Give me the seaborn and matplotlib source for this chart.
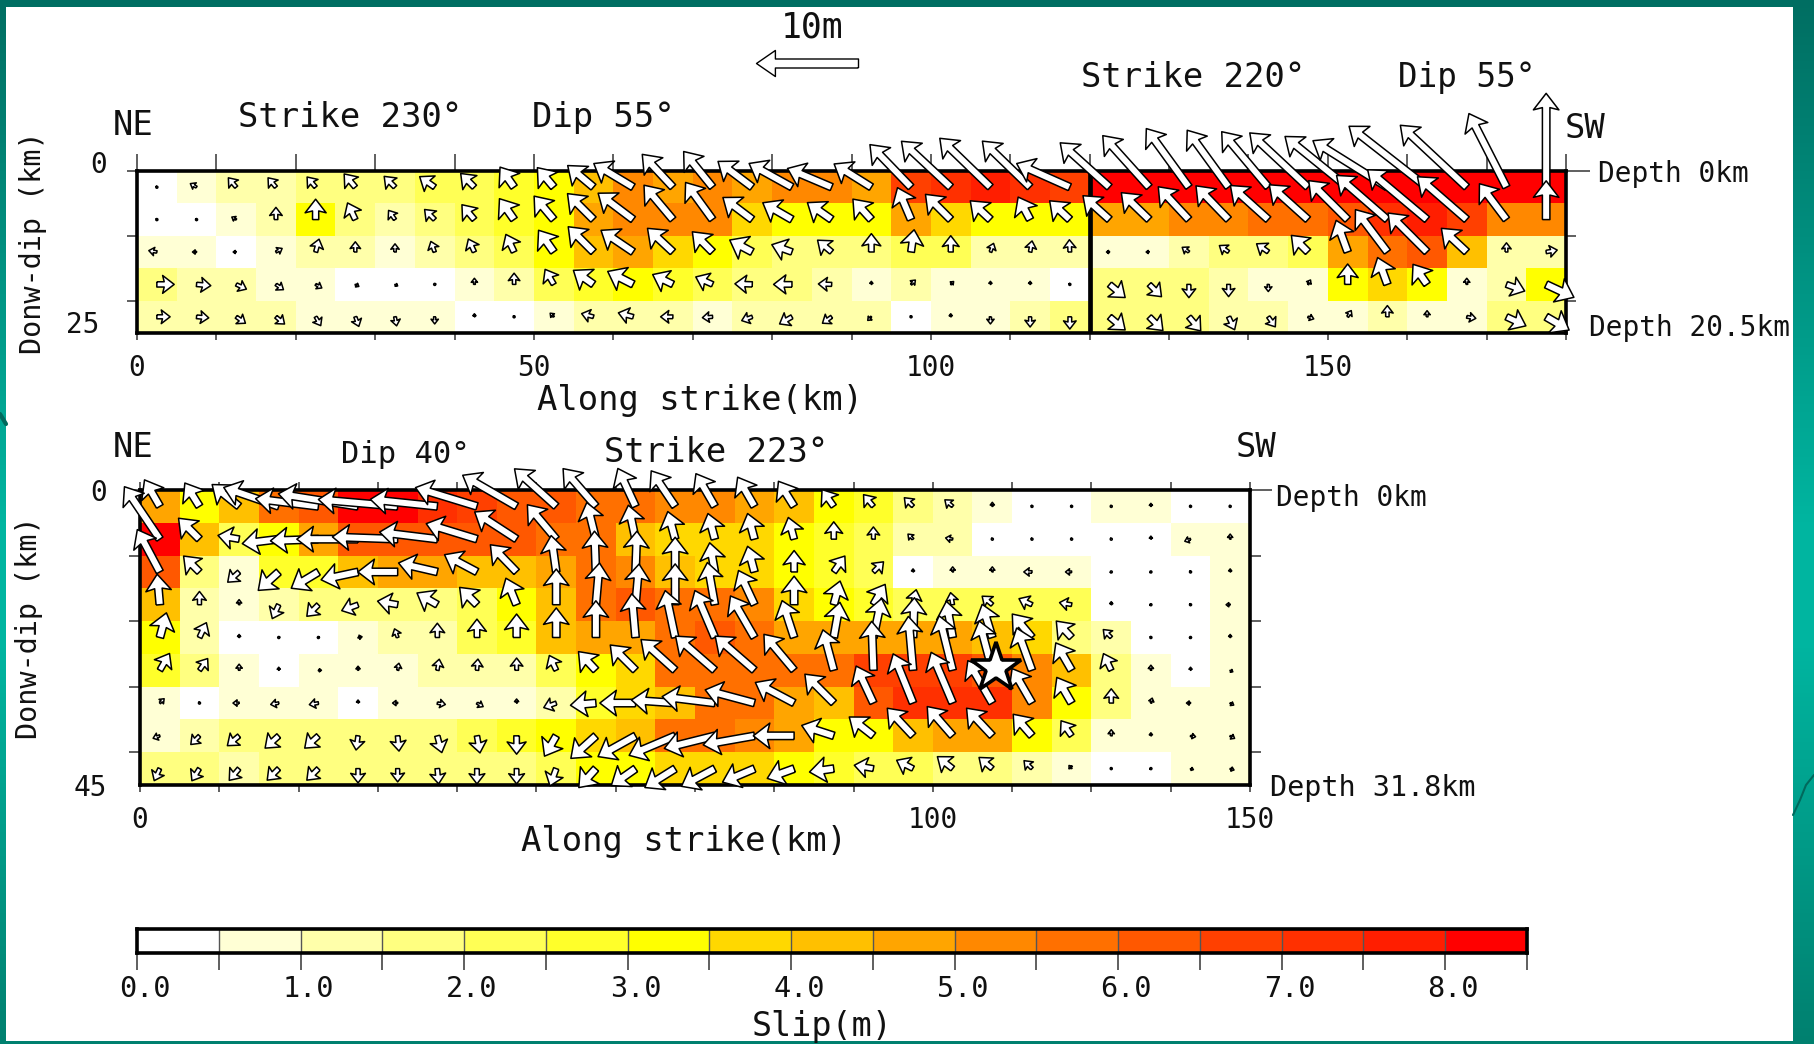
import numpy as np
import matplotlib
matplotlib.use("Agg")
import matplotlib.pyplot as plt
from matplotlib.colors import ListedColormap, BoundaryNorm, LinearSegmentedColormap
from matplotlib.transforms import ScaledTranslation
import seaborn as sns

# ---- slip (m), one row per 5 km down dip, one column per 5 km along strike ----
slip_top = [
 [0.1,0.7,1.2,1.2,1.7,1.7,1.7,2.3,2.3,2.8,3.2,4.0,5.0,4.9,5.0,4.7,5.4,5.3,4.8,6.8,7.4,7.8,7.3,6.7,8.2,8.2,8.2,8.2,8.2,8.2,8.2,8.2,8.2,8.2,8.2,8.2],
 [0.1,0.2,0.8,1.2,3.2,1.7,1.2,1.7,2.2,2.9,3.2,4.6,5.0,5.0,5.2,3.8,3.2,3.2,3.2,4.7,3.9,3.2,3.3,3.3,4.7,4.7,5.3,5.3,5.7,5.7,6.3,7.3,7.8,6.8,5.4,5.4],
 [0.8,0.8,0.1,0.8,1.2,1.2,0.7,1.2,1.7,2.2,3.2,4.2,4.6,3.9,3.2,2.0,1.5,1.5,1.7,2.3,2.0,1.2,1.2,1.2,0.8,0.8,1.2,1.7,1.7,2.3,4.5,5.8,6.0,4.2,1.2,1.2],
 [1.8,1.2,1.2,0.8,0.8,0.2,0.2,0.2,0.8,1.2,2.2,2.7,3.2,2.7,2.2,1.7,1.7,1.2,0.7,1.2,0.8,0.8,0.8,0.2,1.8,1.7,1.5,1.4,0.8,0.8,3.2,3.9,3.2,0.7,1.2,3.1],
 [1.2,1.2,1.2,1.2,0.8,0.8,0.8,0.8,0.2,0.2,0.7,1.2,1.2,1.2,0.8,1.2,1.2,1.2,1.2,0.2,0.7,0.8,1.2,1.5,1.7,1.7,1.7,1.4,1.2,0.8,0.8,1.2,0.8,0.8,1.7,1.8],
]
# arrow length, in tenths of a metre
vec_top = [
 [2,7,12,12,13,17,15,18,19,24,25,33,45,44,45,42,48,47,43,58,66,69,65,57,65,68,71,69,71,78,79,86,97,89,81,92],
 [1,2,5,12,20,18,11,14,19,25,30,36,43,44,45,36,33,29,27,34,35,27,25,27,35,38,44,46,50,51,54,66,76,64,44,38],
 [8,4,3,7,13,10,8,11,14,19,26,35,38,34,28,25,21,18,18,22,16,9,11,12,3,3,8,11,14,23,33,52,54,34,9,11],
 [17,14,11,9,7,4,3,2,6,11,17,24,28,22,18,17,18,13,3,6,4,3,3,2,20,17,13,12,7,5,20,28,24,6,19,30],
 [13,12,11,11,10,10,9,7,3,2,5,12,15,12,10,11,14,11,5,1,3,7,10,12,20,19,18,14,12,6,7,11,6,9,21,26],
]
# arrow direction, degrees counter-clockwise from "along strike"
rake_top = [
 [90,150,130,130,130,130,135,145,135,125,130,140,149,133,129,143,151,157,148,134,137,136,136,156,138,132,126,126,130,137,141,148,142,137,117,90],
 [90,90,150,90,90,115,125,135,130,125,130,135,143,130,126,143,150,145,132,113,135,137,118,137,138,136,133,134,138,138,135,139,140,139,127,90],
 [170,180,180,30,75,90,90,110,115,115,125,135,146,137,135,152,160,140,90,82,90,70,80,92,180,180,145,145,145,135,110,127,135,137,90,10],
 [0,-5,-25,-35,-30,-30,-30,0,90,90,120,145,153,154,156,178,180,178,90,45,45,90,90,90,-40,-45,-90,-90,-90,60,90,110,125,90,-20,-25],
 [0,-5,-35,-40,-60,-70,-80,-90,90,90,135,165,165,180,185,200,210,215,225,90,90,-90,-90,-90,-40,-45,-50,-65,-55,-20,60,90,90,-10,-25,-30],
]

slip_bot = [
 [4.5,3.2,4.2,5.8,6.2,8.0,8.2,7.0,6.5,6.2,6.2,5.7,5.7,5.2,5.0,4.7,4.2,3.1,2.7,1.7,1.2,0.7,0.1,0.1,0.7,0.7,0.1,0.1],
 [8.0,4.2,2.2,3.0,4.5,6.0,6.3,6.2,6.0,6.0,5.8,5.7,4.2,3.9,3.9,3.7,3.2,2.8,2.2,1.0,1.0,0.2,0.1,0.1,0.1,0.1,0.8,0.8],
 [6.0,1.7,0.8,2.8,2.8,4.2,4.5,4.7,4.2,4.2,4.7,5.7,5.0,4.2,3.9,3.5,3.2,2.8,2.2,0.1,0.8,0.8,0.8,0.8,0.1,0.1,0.1,0.7],
 [4.2,1.2,0.6,1.4,1.7,1.7,1.7,1.8,2.2,3.1,4.2,5.7,6.0,5.7,5.7,5.0,3.5,3.0,2.7,2.2,2.2,2.2,2.2,2.0,0.1,0.1,0.1,0.7],
 [3.2,1.2,0.1,0.1,0.1,0.8,1.2,1.2,2.2,2.5,4.0,4.5,4.7,5.7,6.4,5.7,4.5,4.7,4.7,4.7,4.5,4.3,3.9,1.9,1.4,0.1,0.1,0.7],
 [2.5,1.7,0.8,0.1,0.8,0.8,0.8,1.2,1.2,1.2,2.2,3.0,3.7,5.5,5.7,5.7,5.5,5.7,6.5,6.7,6.5,6.0,5.3,4.2,1.7,0.7,0.1,0.7],
 [0.8,0.1,0.7,0.8,0.8,0.1,0.7,0.7,0.7,0.7,1.2,2.9,3.6,4.3,5.5,5.5,4.9,4.2,6.0,7.0,7.3,7.2,5.3,3.2,1.7,0.7,0.7,0.7],
 [0.7,1.2,1.7,1.7,1.7,1.7,1.7,1.7,2.2,2.8,3.2,3.9,4.2,5.5,5.5,5.2,4.9,3.2,3.2,4.2,4.5,4.5,3.2,2.2,0.8,0.7,0.7,0.7],
 [1.7,1.7,1.2,1.7,1.7,1.7,1.7,1.7,1.7,1.7,2.2,3.0,3.2,3.9,3.7,3.7,3.3,2.7,2.2,2.2,1.8,1.7,1.2,0.7,0.1,0.1,0.7,0.7],
]
vec_bot = [
 [30,27,34,57,62,79,78,66,63,61,55,49,41,42,37,33,29,20,15,12,10,4,1,1,2,3,2,2],
 [62,29,21,36,47,60,64,57,52,49,44,37,34,28,26,26,22,17,12,7,7,2,2,2,1,3,6,5],
 [47,22,15,27,31,37,39,39,36,37,36,40,40,34,29,26,21,19,14,3,5,5,8,6,2,2,2,3],
 [30,13,5,15,16,17,20,23,24,28,35,41,40,40,42,37,28,24,23,15,12,13,14,12,3,1,2,4],
 [25,16,3,2,2,4,9,14,18,23,29,36,43,47,50,47,38,35,39,39,36,34,30,22,11,2,1,3],
 [19,14,6,3,3,4,7,11,11,12,16,25,35,45,51,51,46,41,48,53,55,50,44,31,18,5,3,3],
 [6,2,6,8,9,3,5,8,7,4,13,25,35,43,52,50,43,40,40,52,54,48,39,29,14,5,4,4],
 [7,12,15,18,18,14,15,17,17,18,23,33,42,49,51,51,40,33,30,37,38,37,28,18,6,3,5,5],
 [13,14,15,16,16,14,13,15,15,15,18,25,29,35,37,34,28,24,19,18,19,17,11,4,1,2,3,4],
]
rake_bot = [
 [120,122,141,161,173,171,175,174,163,150,138,131,115,124,120,120,122,125,130,135,140,90,90,90,90,90,90,90],
 [124,135,170,187,182,180,178,173,163,147,130,104,102,105,105,105,105,90,90,135,170,90,90,90,90,90,200,90],
 [118,135,222,222,211,192,180,167,152,134,98,92,88,90,100,105,90,55,45,90,90,90,180,180,180,180,90,90],
 [95,90,90,245,225,200,170,150,135,112,90,85,85,90,100,115,90,75,60,78,100,140,155,170,90,180,90,180],
 [75,65,90,0,0,10,110,90,90,90,90,90,95,102,113,120,108,80,78,88,100,107,130,133,135,90,180,90],
 [60,55,90,90,0,90,80,80,85,90,115,133,135,138,139,139,130,105,92,95,104,105,110,120,115,90,90,-30],
 [45,90,180,190,190,90,180,-10,-30,90,200,185,180,176,173,165,152,135,115,112,113,120,120,120,90,75,180,-30],
 [200,225,220,222,222,262,-85,-75,-80,-90,240,222,209,203,194,190,180,162,142,133,131,133,131,125,90,90,-10,-30],
 [245,238,230,225,225,-90,-90,-85,-90,-90,250,228,215,212,208,203,200,188,170,153,142,140,135,130,90,180,-20,-20],
]

# colour scale
slip_bins = [0.5 * i for i in range(18)]
bin_colors = ["#FFFFFF", "#FFFFD5", "#FFFFAA", "#FFFF80", "#FFFF55", "#FFFF2A", "#FFFF00",
              "#FFD800", "#FFC000", "#FFA500", "#FF8800", "#FF7000", "#FF5800", "#FF4000",
              "#FF3000", "#FF1E00", "#FF0000"]
cbar_tick_labels = ["0.0", "1.0", "2.0", "3.0", "4.0", "5.0", "6.0", "7.0", "8.0"]
top_x_labels = {0: "0", 50: "50", 100: "100", 150: "150"}
bot_x_labels = {0: "0", 100: "100", 140: "150"}
segment_break_km = 120
legend_slip_m = 10
epicentre_km = (108.0, 27.2)

W, H = 1814, 1044
DPI = 100
MONO = "DejaVu Sans Mono"
sns.set_theme(style="white")
plt.rcParams["font.family"] = MONO
INK = "#111111"

fig = plt.figure(figsize=(W / DPI, H / DPI), dpi=DPI)

def axpx(x0, y0, x1, y1, **kw):
    return fig.add_axes([x0 / W, 1 - y1 / H, (x1 - x0) / W, (y1 - y0) / H], **kw)

def T(x, y, s, size=24.4, ha="left", va="center", **kw):
    return fig.text(x / W, 1 - (y + 2.5) / H, s, fontsize=size, ha=ha, va=va, color=INK, **kw)

def shift(label, dx, dy):
    label.set_transform(label.get_transform() + ScaledTranslation(dx / DPI, -dy / DPI, fig.dpi_scale_trans))

# background: teal slide with a white sheet
bg = axpx(0, 0, W, H, zorder=-5)
teal = LinearSegmentedColormap.from_list("teal", [(0, "#006E62"), (0.5, "#00B5A0"), (0.62, "#00B5A0"), (1, "#00806F")])
bg.imshow(np.linspace(0, 1, 256)[:, None], cmap=teal, aspect="auto", extent=(0, W, H, 0))
bg.fill_between([6, 1793], [7, 7], [1041, 1041], color="white", lw=0)
bg.plot([1793, 1800, 1806, 1814], [815, 800, 785, 775], color="#00695C", lw=1.5)
bg.plot([0, 6], [414, 424], color="#00695C", lw=3)
bg.set_xlim(0, W); bg.set_ylim(H, 0); bg.axis("off")

cmap = ListedColormap(bin_colors)
norm = BoundaryNorm(slip_bins, cmap.N)

def panel(ax, slip, vec, rake):
    slip = np.array(slip, float)
    sns.heatmap(slip, ax=ax, cmap=cmap, norm=norm, cbar=False, xticklabels=False, yticklabels=False)
    vec = np.array(vec, float); ang = np.deg2rad(np.array(rake, float))
    rows, cols = slip.shape
    X, Y = np.meshgrid(np.arange(cols) + 0.5, np.arange(rows) + 0.5)
    ax.quiver(X, Y, vec * np.cos(ang), vec * np.sin(ang), angles="uv", pivot="tail",
              units="dots", width=7.5, scale_units="dots", scale=1 / 1.02,
              headwidth=3.4, headlength=2.2, headaxislength=1.9, minshaft=1.5, minlength=0.3,
              facecolor="white", edgecolor="black", linewidth=1.1, zorder=4, clip_on=False)
    for s in ax.spines.values():
        s.set_visible(True); s.set_color("black"); s.set_linewidth(2.6); s.set_zorder(3)

KM = 5.0  # one grid cell

# ---- top panel ----
ax1 = axpx(137, 171, 1566, 333)
panel(ax1, slip_top, vec_top, rake_top)
ax1.axvline(segment_break_km / KM, color="black", lw=3.4, zorder=3)
xt = np.arange(0, 181, 10)
ax1.set_xticks(xt / KM, [top_x_labels.get(int(v), "") for v in xt])
ax1.set_yticks([0, 2, 4, 5], ["0", "", "", "25"])
ax1.tick_params(axis="x", which="major", bottom=True, top=True, length=5, width=1.2, color="#444444",
                labelsize=20, pad=10, labelcolor=INK)
ax1.tick_params(axis="y", which="major", left=True, right=True, length=7.5, width=1.2, color="#444444",
                labelsize=20, pad=14, labelcolor=INK)
for t in ax1.xaxis.get_major_ticks():
    t.tick2line.set_markersize(12)
yt = ax1.yaxis.get_major_ticks()
yt[3].tick1line.set_visible(False); yt[3].tick2line.set_visible(False)
yt[0].tick2line.set_markersize(17)
shift(ax1.get_yticklabels()[0], 0, -9)
shift(ax1.get_yticklabels()[3], -8, -11)
# 10 m reference arrow, drawn at the same scale as the slip vectors
ax1.quiver([90.8 / KM], [-16.7 / KM], [-legend_slip_m * 10], [0], angles="uv", pivot="tail",
           units="dots", width=9, scale_units="dots", scale=1 / 1.02,
           headwidth=2.9, headlength=2.1, headaxislength=2.1, facecolor="white",
           edgecolor="black", linewidth=1.0, zorder=4, clip_on=False)

# ---- bottom panel ----
ax2 = axpx(140, 490, 1250, 785)
panel(ax2, slip_bot, vec_bot, rake_bot)
xt = np.arange(0, 141, 10)
ax2.set_xticks(xt / KM, [bot_x_labels.get(int(v), "") for v in xt])
ax2.set_yticks([0, 2, 4, 6, 8, 9], ["0", "", "", "", "", "45"])
ax2.tick_params(axis="x", which="major", bottom=True, top=True, length=5, width=1.2, color="#444444",
                labelsize=20, pad=10, labelcolor=INK)
ax2.tick_params(axis="y", which="major", left=True, right=True, length=8, width=1.2, color="#444444",
                labelsize=20, pad=16, labelcolor=INK)
for t in ax2.xaxis.get_major_ticks():
    t.tick2line.set_markersize(6)
yt = ax2.yaxis.get_major_ticks()
yt[5].tick1line.set_visible(False); yt[5].tick2line.set_visible(False)
yt[0].tick2line.set_markersize(16)
ax2.plot(epicentre_km[0] / KM, epicentre_km[1] / KM, marker="*", ms=38, mfc="white", mec="black", mew=2.6,
         zorder=6, clip_on=False, ls="none")

# ---- colour bar ----
ax3 = axpx(137, 929, 1527, 953)
mids = np.array(slip_bins[:-1]) + 0.25
sns.heatmap(mids[None, :], ax=ax3, cmap=cmap, norm=norm, cbar=False, xticklabels=False, yticklabels=False)
for v in range(1, 17):
    ax3.axvline(v, color="#555555", lw=1.0)
ax3.set_yticks([])
ax3.set_xticks(np.arange(0, 18), [cbar_tick_labels[i // 2] if i % 2 == 0 else "" for i in range(18)])
ax3.tick_params(axis="x", bottom=True, length=12, width=1.2, color="#444444", labelsize=20.5, pad=4, labelcolor=INK)
for lab in ax3.get_xticklabels():
    shift(lab, 8, 0)
for s in ax3.spines.values():
    s.set_visible(True); s.set_color("black"); s.set_linewidth(2.6)

# ---- annotations ----
T(812, 25, "10m", 25, ha="center")
T(238, 115, "Strike 230°")
T(532, 115, "Dip 55°")
T(1081, 75, "Strike 220°")
T(1398, 75, "Dip 55°", 23.5)
T(113, 123, "NE", 24.4)
T(1565, 126, "SW", 24.4)
T(1598, 172, "Depth 0km", 20)
T(1589, 326, "Depth 20.5km", 20)
T(537, 398, "Along strike(km)")
T(33, 240, "Donw-dip (km)", 20.5, ha="center", rotation=90)

T(113, 445, "NE", 24.4)
T(1236, 445, "SW", 24.4)
T(341, 452, "Dip 40°", 22)
T(604, 450, "Strike 223°")
T(1276, 495, "Depth 0km", 20)
T(1270, 786, "Depth 31.8km", 20.5)
T(521, 839, "Along strike(km)")
T(29, 625, "Donw-dip (km)", 20.5, ha="center", rotation=90)
T(752, 1024, "Slip(m)", 24)

fig.savefig("out.png", dpi=DPI)
